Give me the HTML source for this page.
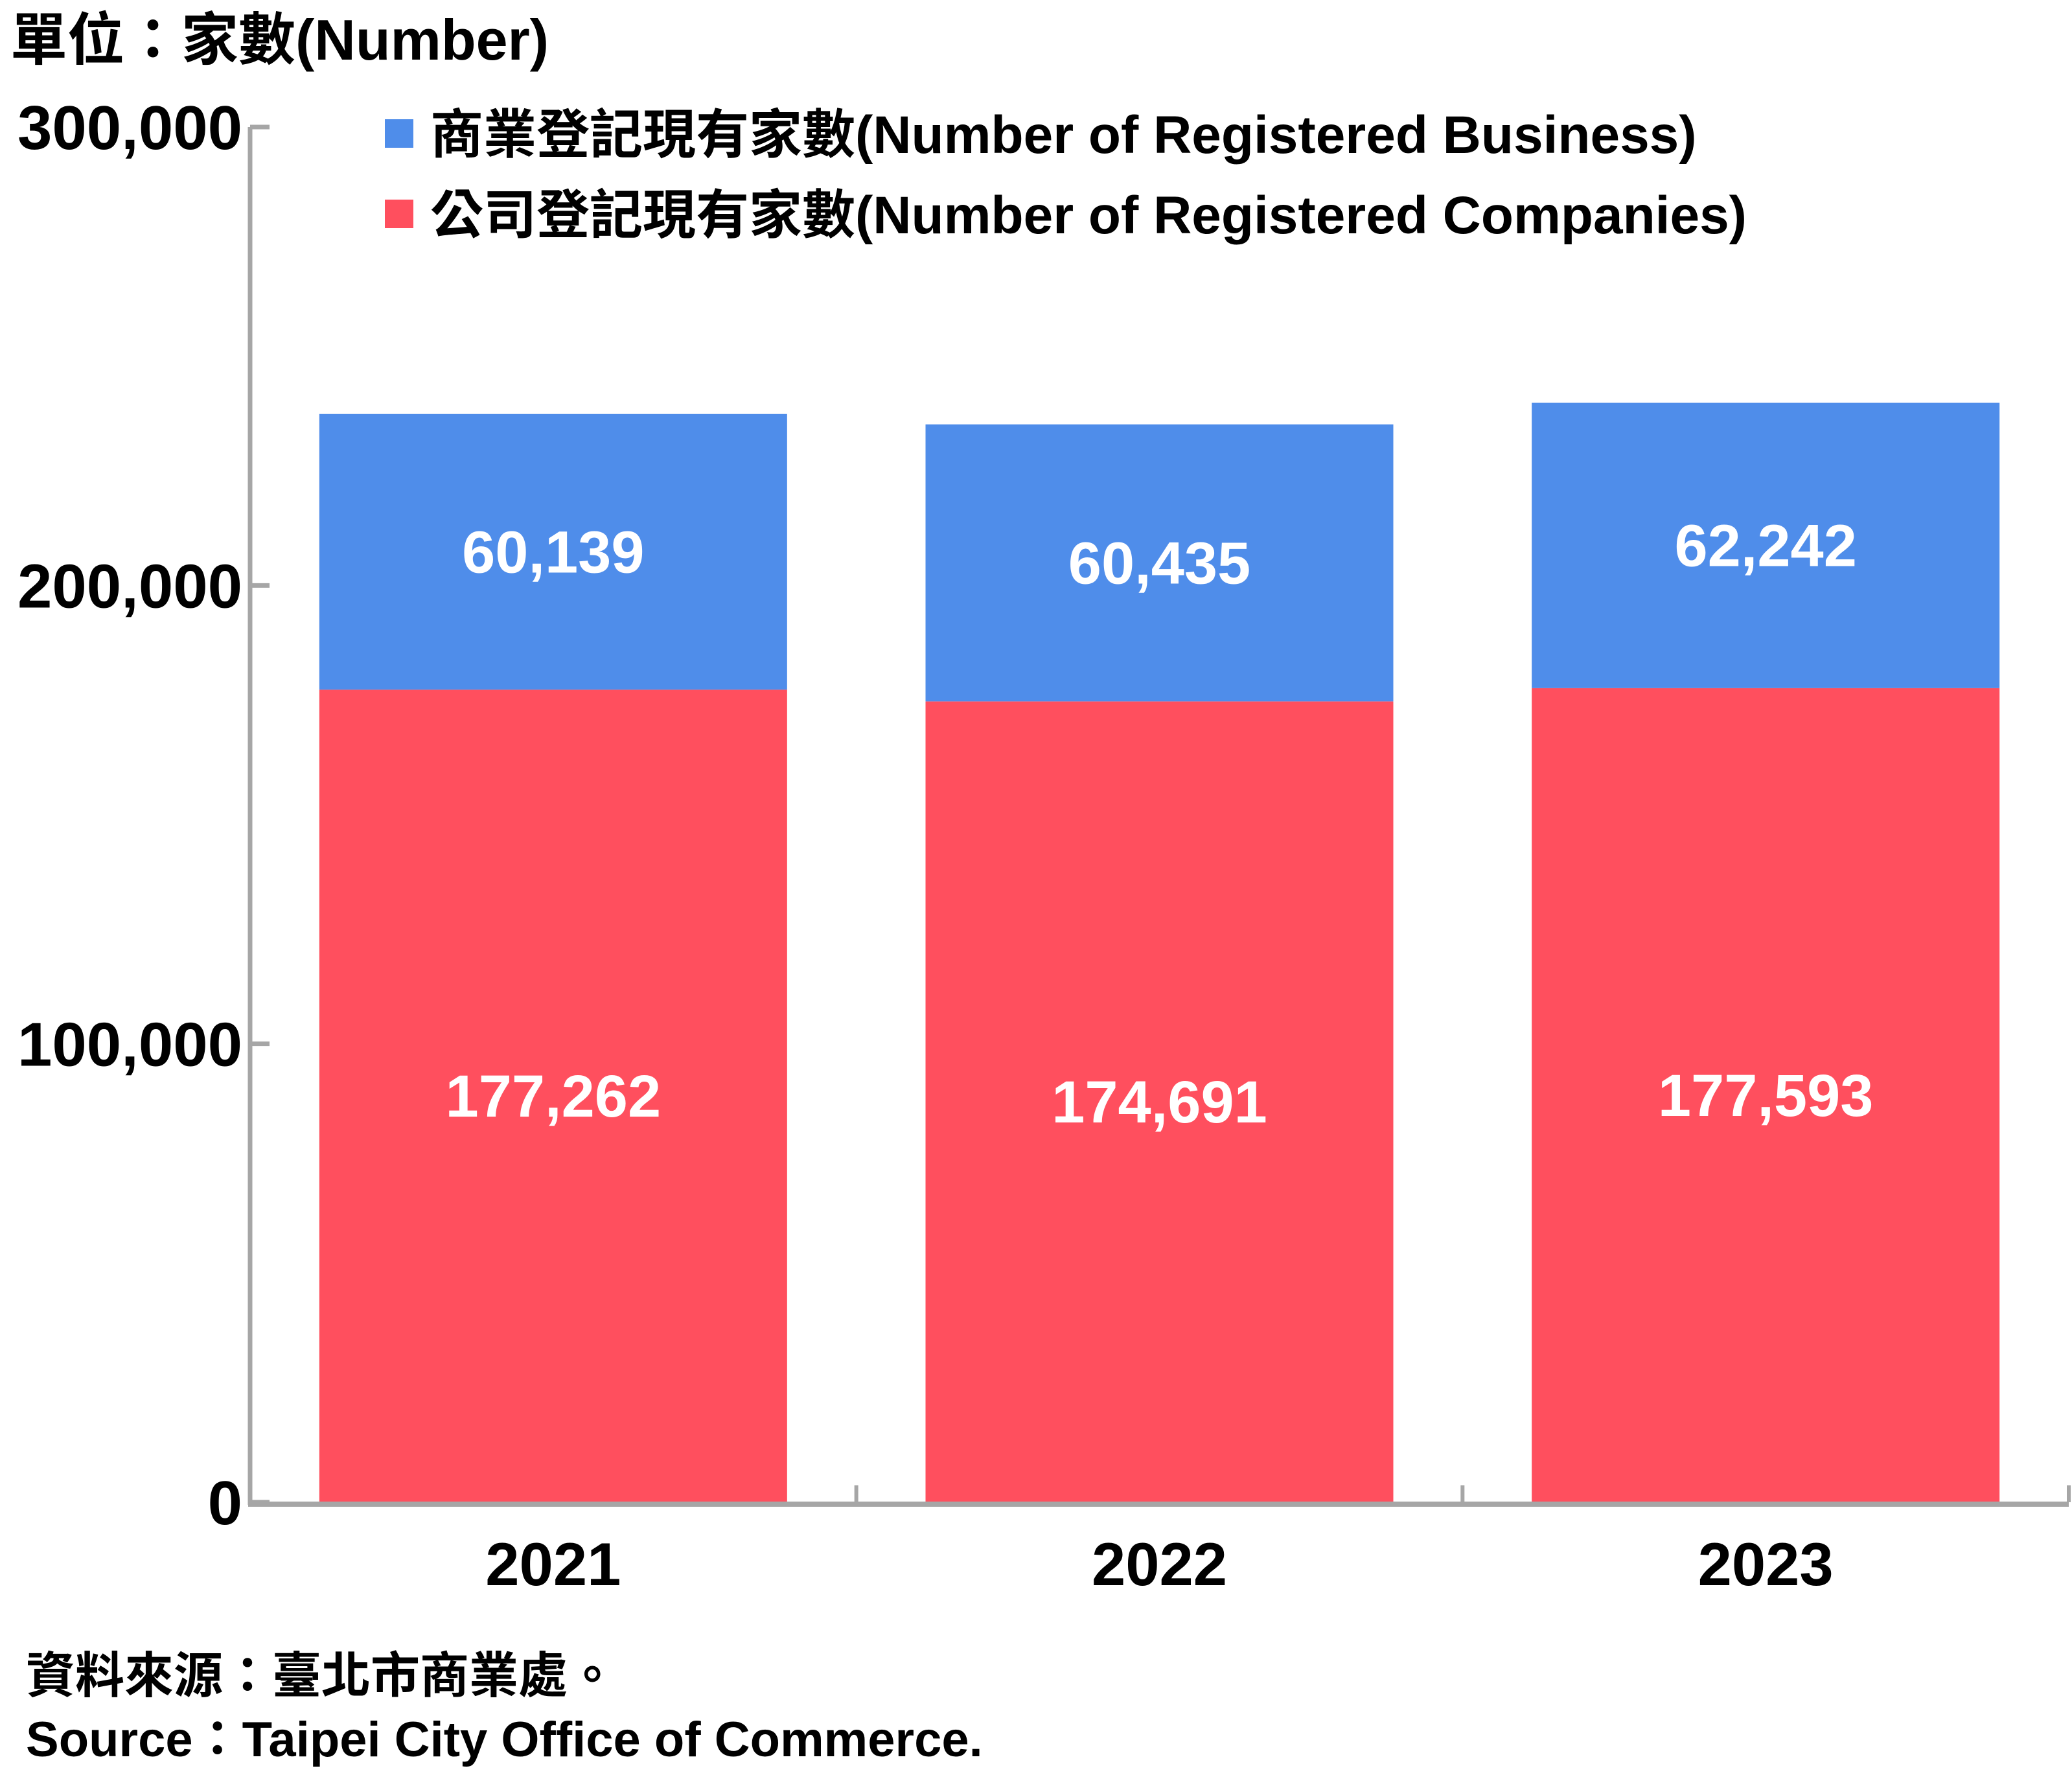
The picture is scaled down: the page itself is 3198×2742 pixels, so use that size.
<!DOCTYPE html>
<html><head><meta charset="utf-8"><style>
html,body{margin:0;padding:0;background:#fff;}
svg{display:block;}
text{font-family:"Liberation Sans","Noto Sans CJK TC",sans-serif;font-weight:bold;}
</style></head><body>
<svg id="chart" width="3198" height="2742" viewBox="0 0 3198 2742" xmlns="http://www.w3.org/2000/svg">
<text x="16" y="92" font-size="88" fill="#000">單位：家數(Number)</text>
<g id="yaxis"></g>
<g id="bars"></g>
<g id="xaxis"></g>
<g>
<g>
<rect x="594" y="184" width="44" height="44" fill="#4f8dea"/>
<text x="664" y="236" font-size="82" fill="#000">商業登記現有家數(Number of Registered Business)</text>
</g>
<g>
<rect x="594" y="308" width="44" height="44" fill="#ff4f5e"/>
<text x="664" y="360" font-size="82" fill="#000">公司登記現有家數(Number of Registered Companies)</text>
</g>
</g>
<text x="40" y="2612" font-size="76" fill="#000">資料來源：臺北市商業處。</text>
<text x="40" y="2710" font-size="76" fill="#000">Source：Taipei City Office of Commerce.</text>
</svg>
<script>
const categories = ["2021","2022","2023"];
const companies = [177262,174691,177593];
const business = [60139,60435,62242];
const yTicks = [0,100000,200000,300000];
const yTickLabels = ["0","100,000","200,000","300,000"];

const NS="http://www.w3.org/2000/svg";
const X0=386, X1=3193, Y0=2318, Y1=196, YMAX=300000;
const band=(X1-X0)/categories.length, barW=722;
function yScale(v){return Y0-(v/YMAX)*(Y0-Y1);}
function xCenter(i){return X0+band*(i+0.5);}
function mk(tag,attrs,parent){const e=document.createElementNS(NS,tag);for(const k in attrs)e.setAttribute(k,attrs[k]);parent.appendChild(e);return e;}
function fmt(v){return v.toLocaleString('en-US');}

const ya=document.getElementById('yaxis');
let l=mk('line',{x1:X0,y1:Y1,x2:X0,y2:Y0+4,stroke:'#a6a6a6','stroke-width':7},ya);


yTicks.forEach((t,i)=>{
  const y=yScale(t);
  const tk=mk('line',{x1:X0,y1:y,x2:X0+30,y2:y,stroke:'#a6a6a6','stroke-width':7},ya);
  
  
  const tx=mk('text',{x:X0-12,y:y+34,'text-anchor':'end','font-size':96,fill:'#000'},ya);
  
  
  tx.textContent=yTickLabels[i];
});

const bg=document.getElementById('bars');
categories.forEach((c,i)=>{
  const cx=xCenter(i), x=cx-barW/2;
  const yc=yScale(companies[i]), yb=yScale(companies[i]+business[i]);
  const r=mk('rect',{x:x,y:yc,width:barW,height:Y0-yc,fill:'#ff4f5e'},bg);
  
  
  const b=mk('rect',{x:x,y:yb,width:barW,height:yc-yb,fill:'#4f8dea'},bg);
  
  
  const t1=mk('text',{x:cx,y:(yc+Y0)/2+32,'text-anchor':'middle','font-size':92,fill:'#fff'},bg);
  
  
  t1.textContent=fmt(companies[i]);
  const t2=mk('text',{x:cx,y:(yb+yc)/2+32,'text-anchor':'middle','font-size':92,fill:'#fff'},bg);
  
  
  t2.textContent=fmt(business[i]);
});

const xa=document.getElementById('xaxis');
const xl=mk('line',{x1:X0-3,y1:Y0+3,x2:X1,y2:Y0+3,stroke:'#a6a6a6','stroke-width':8},xa);


for(let i=1;i<=categories.length;i++){
  const x=X0+band*i;
  const tk=mk('line',{x1:x,y1:Y0-26,x2:x,y2:Y0,stroke:'#a6a6a6','stroke-width':6},xa);
  
  
}
categories.forEach((c,i)=>{
  const t=mk('text',{x:xCenter(i),y:2446,'text-anchor':'middle','font-size':94,fill:'#000'},xa);
  
  
  t.textContent=c;
});
</script>
</body></html>
